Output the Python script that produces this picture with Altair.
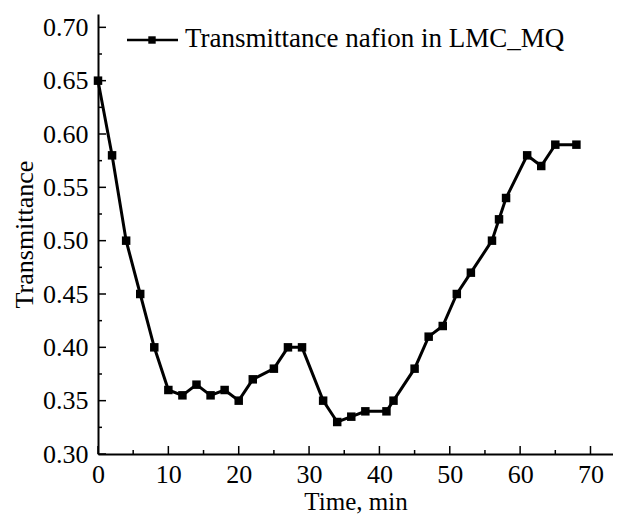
import altair as alt
import pandas as pd

time_min = [0, 2, 4, 6, 8, 10, 12, 14, 16, 18, 20, 22, 25, 27, 29, 32, 34, 36, 38, 41, 42, 45, 47, 49, 51, 53, 56, 57, 58, 61, 63, 65, 68]
transmittance = [0.65, 0.58, 0.50, 0.45, 0.40, 0.36, 0.355, 0.365, 0.355, 0.36, 0.35, 0.37, 0.38, 0.40, 0.40, 0.35, 0.33, 0.335, 0.34, 0.34, 0.35, 0.38, 0.41, 0.42, 0.45, 0.47, 0.50, 0.52, 0.54, 0.58, 0.57, 0.59, 0.59]
x_major = [0, 10, 20, 30, 40, 50, 60, 70]
x_minor = [5, 15, 25, 35, 45, 55, 65]
y_major = [0.30, 0.35, 0.40, 0.45, 0.50, 0.55, 0.60, 0.65, 0.70]
y_minor = [0.325, 0.375, 0.425, 0.475, 0.525, 0.575, 0.625, 0.675]
legend_label = "Transmittance nafion in LMC_MQ"

W, H = 515, 440
FONT = "Liberation Serif"
FS = 26

df = pd.DataFrame({"t": time_min, "v": transmittance})
xs = alt.Scale(domain=[0, 73.2], nice=False, zero=False)
ys = alt.Scale(domain=[0.3, 0.7125], nice=False, zero=False)

xaxis = alt.Axis(values=x_major, format="d", ticks=False, grid=False, domainColor="black",
                 domainWidth=2, labelFont=FONT, labelFontSize=FS, labelColor="black",
                 labelPadding=7, labelFlush=False, title="Time, min", titleFont=FONT, titleFontSize=25,
                 titleFontWeight="normal", titleColor="black",
                 titleBaseline="top", titleY=35)
yaxis = alt.Axis(values=y_major, format=".2f", ticks=False, grid=False, domainColor="black",
                 domainWidth=2, labelFont=FONT, labelFontSize=FS, labelColor="black",
                 labelPadding=10, labelFlush=False, title="Transmittance", titleFont=FONT, titleFontSize=FS,
                 titleFontWeight="normal", titleColor="black", titlePadding=5)

line = alt.Chart(df).mark_line(color="black", strokeWidth=3).encode(
    x=alt.X("t:Q", scale=xs, axis=xaxis),
    y=alt.Y("v:Q", scale=ys, axis=yaxis),
)
pts = alt.Chart(df).mark_point(shape="square", filled=True, color="black", size=72, opacity=1).encode(
    x=alt.X("t:Q", scale=xs), y=alt.Y("v:Q", scale=ys)
)

def xticks(vals, length):
    d = pd.DataFrame({"t": vals})
    return alt.Chart(d).mark_rule(color="black", strokeWidth=1.5).encode(
        x=alt.X("t:Q", scale=xs), y=alt.value(H), y2=alt.value(H - length))

def yticks(vals, length):
    d = pd.DataFrame({"v": vals})
    return alt.Chart(d).mark_rule(color="black", strokeWidth=1.5).encode(
        y=alt.Y("v:Q", scale=ys), x=alt.value(0), x2=alt.value(length))

leg_line = alt.Chart(pd.DataFrame({"a": [0]})).mark_rule(color="black", strokeWidth=2.5).encode(
    x=alt.value(29), x2=alt.value(80), y=alt.value(26))
leg_pt = alt.Chart(pd.DataFrame({"a": [0]})).mark_point(shape="square", filled=True, color="black", size=55, opacity=1).encode(
    x=alt.value(54), y=alt.value(26))
leg_txt = alt.Chart(pd.DataFrame({"label": [legend_label]})).mark_text(
    align="left", baseline="alphabetic", font=FONT, fontSize=27, color="black").encode(
    x=alt.value(87), y=alt.value(33), text="label:N")

chart = alt.layer(
    line, pts,
    xticks(x_major, 8), xticks(x_minor, 4), yticks(y_major, 8), yticks(y_minor, 4),
    leg_line, leg_pt, leg_txt,
).properties(
    width=W, height=H,
    padding={"left": 90, "top": 6, "right": 0, "bottom": 61},
    autosize=alt.AutoSizeParams(type="none"),
    background="white",
).configure_view(stroke=None)

chart.save("out.html", embed_options={"renderer": "svg", "actions": False})
